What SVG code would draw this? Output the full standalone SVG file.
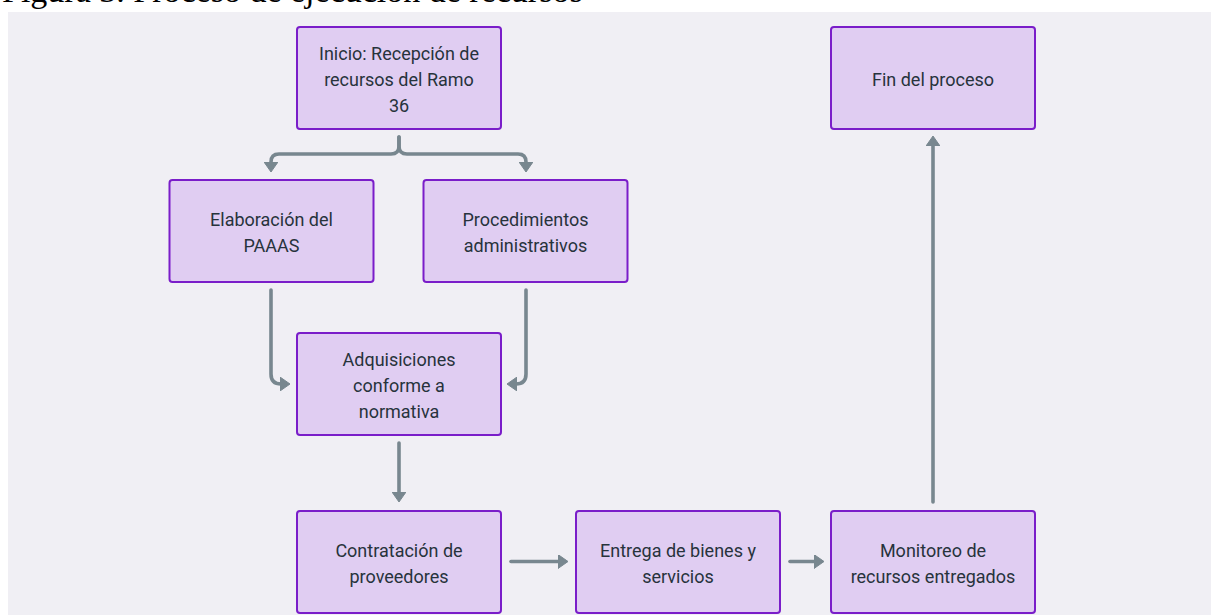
<svg xmlns="http://www.w3.org/2000/svg" width="1211" height="615" viewBox="0 0 1211 615">
  <defs>
    <style>
      .node rect { fill: #e0cdf2; stroke: #7a1dc9; stroke-width: 2; }
      .node text { font-family: Roboto, "Noto Sans", "Liberation Sans", sans-serif; font-size: 18px; fill: #27333c; text-anchor: middle; }
      .edge { fill: none; stroke: #78878f; stroke-width: 3.6; stroke-linecap: round; stroke-linejoin: round; }
      .caption { font-family: "Liberation Serif", serif; font-size: 34px; fill: #000; }
    </style>
    <marker id="arr" viewBox="0 0 10 14" markerWidth="10" markerHeight="14" refX="2" refY="7" orient="auto" markerUnits="userSpaceOnUse">
      <path d="M0,0 L10,7 L0,14 Z" fill="#78878f" stroke="#78878f" stroke-width="1" stroke-linejoin="round"/>
    </marker>
  </defs>
  <rect x="0" y="0" width="1211" height="615" fill="#ffffff"/>
  <text class="caption" x="2" y="1.5">Figura 3. Proceso de ejecución de recursos</text>
  <rect x="8" y="12" width="1203" height="603" fill="#f0eff4"/>

  <g id="connectors">
    <path class="edge" d="M399,137 L399,146 Q399,154 391,154 L279,154 Q271,154 271,162 L271,164" marker-end="url(#arr)"/>
    <path class="edge" d="M399,137 L399,146 Q399,154 407,154 L518,154 Q526,154 526,162 L526,164" marker-end="url(#arr)"/>
    <path class="edge" d="M271,290 L271,374 Q271,384 281,384 L282,384" marker-end="url(#arr)"/>
    <path class="edge" d="M526,290 L526,374 Q526,384 516,384 L515,384" marker-end="url(#arr)"/>
    <path class="edge" d="M399,443 L399,494" marker-end="url(#arr)"/>
    <path class="edge" d="M511,561.5 L560,561.5" marker-end="url(#arr)"/>
    <path class="edge" d="M790,561.5 L816,561.5" marker-end="url(#arr)"/>
    <path class="edge" d="M933,502 L933,144" marker-end="url(#arr)"/>
  </g>

  <g id="n1" class="node">
    <rect x="297" y="27" width="204" height="102" rx="3"/>
    <text x="399" y="60">Inicio: Recepción de</text>
    <text x="399" y="85.8">recursos del Ramo</text>
    <text x="399" y="111.6">36</text>
  </g>
  <g id="n2" class="node">
    <rect x="169.5" y="180" width="204" height="102" rx="3"/>
    <text x="271.5" y="226">Elaboración del</text>
    <text x="271.5" y="251.8">PAAAS</text>
  </g>
  <g id="n3" class="node">
    <rect x="423.5" y="180" width="204" height="102" rx="3"/>
    <text x="525.5" y="226">Procedimientos</text>
    <text x="525.5" y="251.8">administrativos</text>
  </g>
  <g id="n4" class="node">
    <rect x="297" y="333" width="204" height="102" rx="3"/>
    <text x="399" y="366">Adquisiciones</text>
    <text x="399" y="391.8">conforme a</text>
    <text x="399" y="417.6">normativa</text>
  </g>
  <g id="n5" class="node">
    <rect x="297" y="511" width="204" height="102" rx="3"/>
    <text x="399" y="557">Contratación de</text>
    <text x="399" y="582.8">proveedores</text>
  </g>
  <g id="n6" class="node">
    <rect x="576" y="511" width="204" height="102" rx="3"/>
    <text x="678" y="557">Entrega de bienes y</text>
    <text x="678" y="582.8">servicios</text>
  </g>
  <g id="n7" class="node">
    <rect x="831" y="511" width="204" height="102" rx="3"/>
    <text x="933" y="557">Monitoreo de</text>
    <text x="933" y="582.8">recursos entregados</text>
  </g>
  <g id="n8" class="node">
    <rect x="831" y="27" width="204" height="102" rx="3"/>
    <text x="933" y="86">Fin del proceso</text>
  </g>
</svg>
